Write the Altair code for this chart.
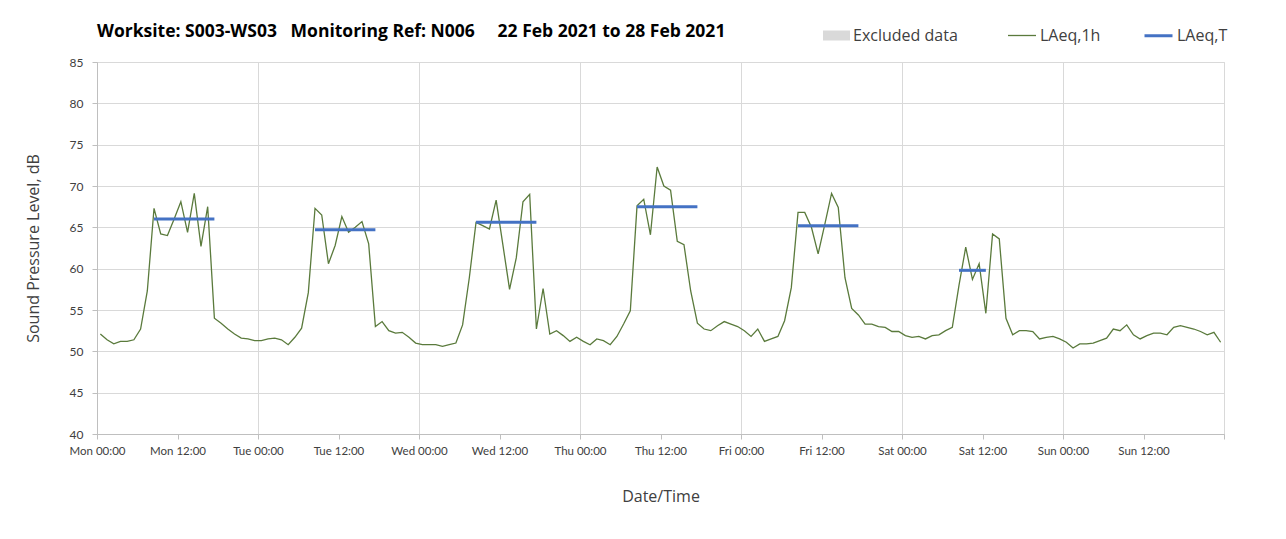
import altair as alt
import pandas as pd

# ---- data ----
DAY_NAMES = ["Mon", "Tue", "Wed", "Thu", "Fri", "Sat", "Sun"]

laeq_1h_mon = [52.1, 51.4, 50.9, 51.2, 51.2, 51.4, 52.7, 57.3, 67.3, 64.2, 64.0, 66.0,
               68.1, 64.4, 69.1, 62.7, 67.5, 54.0, 53.4, 52.7, 52.1, 51.6, 51.5, 51.3]
laeq_1h_tue = [51.3, 51.5, 51.6, 51.4, 50.8, 51.7, 52.8, 57.1, 67.3, 66.5, 60.6, 62.8,
               66.3, 64.4, 65.0, 65.7, 63.0, 53.0, 53.6, 52.5, 52.2, 52.3, 51.7, 51.0]
laeq_1h_wed = [50.8, 50.8, 50.8, 50.6, 50.8, 51.0, 53.2, 58.9, 65.6, 65.2, 64.8, 68.3,
               62.9, 57.5, 61.3, 68.1, 69.0, 52.7, 57.6, 52.1, 52.5, 51.9, 51.2, 51.7]
laeq_1h_thu = [51.2, 50.8, 51.5, 51.3, 50.8, 51.8, 53.3, 54.9, 67.6, 68.4, 64.1, 72.3,
               70.0, 69.5, 63.3, 62.9, 57.3, 53.4, 52.7, 52.5, 53.1, 53.6, 53.3, 53.0]
laeq_1h_fri = [52.5, 51.8, 52.7, 51.2, 51.5, 51.8, 53.7, 57.7, 66.8, 66.8, 65.0, 61.8,
               65.4, 69.1, 67.4, 58.9, 55.2, 54.4, 53.3, 53.3, 53.0, 52.9, 52.4, 52.4]
laeq_1h_sat = [51.9, 51.7, 51.8, 51.5, 51.9, 52.0, 52.5, 52.9, 58.0, 62.6, 58.7, 60.6,
               54.6, 64.2, 63.6, 54.0, 52.0, 52.5, 52.5, 52.4, 51.5, 51.7, 51.8, 51.5]
laeq_1h_sun = [51.1, 50.4, 50.9, 50.9, 51.0, 51.3, 51.6, 52.7, 52.5, 53.2, 52.0, 51.5,
               51.9, 52.2, 52.2, 52.0, 52.9, 53.1, 52.9, 52.7, 52.4, 52.0, 52.3, 51.1]

# LAeq,T daytime periods (hour index of first and last hourly value)
period_start_hour = [8, 32, 56, 80, 104, 128]
period_end_hour = [17, 41, 65, 89, 113, 132]
laeq_t = [66.0, 64.7, 65.6, 67.5, 65.2, 59.8]

LINE_SERIES = ["LAeq,1h", "LAeq,T"]
LINE_COLORS = ["#5a7a3c", "#4472c4"]
LINE_WIDTHS = [1.3, 3]
EXCLUDED = ["Excluded data"]
EXCLUDED_COLOR = ["#d9d9d9"]

# ---- tables ----
values = (laeq_1h_mon + laeq_1h_tue + laeq_1h_wed + laeq_1h_thu +
          laeq_1h_fri + laeq_1h_sat + laeq_1h_sun)
hourly = pd.DataFrame({
    "t": [h + 0.5 for h in range(len(values))],
    "level": values,
    "series": "LAeq,1h",
})
periods = pd.DataFrame({
    "t0": [h + 0.5 for h in period_start_hour],
    "t1": [h + 0.5 for h in period_end_hour],
    "level": laeq_t,
    "series": "LAeq,T",
})
excluded = pd.DataFrame({"t0": [], "t1": [], "kind": []})

FONT = "Open Sans"
TICK_FONT = "Lato"
TXT = "#404040"

days_js = "[" + ",".join("'%s'" % d for d in DAY_NAMES) + "]"
x_label_expr = ("datum.value >= 168 ? '' : " + days_js +
                "[floor(datum.value / 24)] + (datum.value % 24 === 0 ? ' 00:00' : ' 12:00')")

x_scale = alt.Scale(domain=[0, 168], nice=False, zero=False)
y_scale = alt.Scale(domain=[40, 85], nice=False, zero=False)

x_axis = alt.Axis(
    title="Date/Time",
    values=list(range(0, 169, 12)),
    labelExpr=x_label_expr,
    labelFont=TICK_FONT, labelFontSize=11.5, labelColor=TXT, labelPadding=6,
    labelFlush=False,
    titleFont=FONT, titleFontSize=16, titleFontWeight="normal", titleColor=TXT,
    titlePadding=32,
    tickSize=5, tickColor="#bfbfbf", domainColor="#bfbfbf",
    gridColor="#d9d9d9",
    gridOpacity={"condition": {"test": "datum.value % 24 === 0", "value": 1}, "value": 0},
)
y_axis = alt.Axis(
    title="Sound Pressure Level, dB",
    values=list(range(40, 86, 5)),
    labelFont=TICK_FONT, labelFontSize=12, labelColor=TXT, labelPadding=9,
    titleFont=FONT, titleFontSize=16, titleFontWeight="normal", titleColor=TXT,
    titlePadding=28,
    tickSize=5, tickColor="#bfbfbf", domainColor="#bfbfbf",
    gridColor="#d9d9d9",
)


def line_legend():
    return alt.Legend(
        title=None, orient="none", legendX=910, legendY=-42,
        direction="horizontal",
        labelFont=FONT, labelFontSize=16, labelColor=TXT,
        labelOffset=3, columnPadding=37,
        symbolType="stroke", symbolSize=784,
    )


color = alt.Color("series:N", scale=alt.Scale(domain=LINE_SERIES, range=LINE_COLORS),
                  legend=line_legend())
width = alt.StrokeWidth("series:N", scale=alt.Scale(domain=LINE_SERIES, range=LINE_WIDTHS),
                        legend=line_legend())

line = alt.Chart(hourly).mark_line().encode(
    x=alt.X("t:Q", scale=x_scale, axis=x_axis),
    y=alt.Y("level:Q", scale=y_scale, axis=y_axis),
    color=color,
    strokeWidth=width,
)

rules = alt.Chart(periods).mark_rule().encode(
    x=alt.X("t0:Q", scale=x_scale),
    x2="t1:Q",
    y=alt.Y("level:Q", scale=y_scale),
    color=color,
    strokeWidth=width,
)

excl = alt.Chart(excluded).mark_rect().encode(
    x=alt.X("t0:Q", scale=x_scale),
    x2="t1:Q",
    fill=alt.Fill("kind:N", scale=alt.Scale(domain=EXCLUDED, range=EXCLUDED_COLOR),
                  legend=alt.Legend(
                      title=None, orient="none", legendX=726, legendY=-40,
                      labelFont=FONT, labelFontSize=16, labelColor=TXT,
                      labelOffset=3,
                      symbolType="M-1,-0.37H1V0.37H-1Z", symbolSize=729,
                      symbolStrokeWidth=0, symbolOpacity=1,
                  )),
)

title_text = ("Worksite: S003-WS03\u00a0\u00a0\u00a0Monitoring Ref: N006"
              "\u00a0\u00a0\u00a0\u00a0\u00a022 Feb 2021 to 28 Feb 2021")

chart = alt.layer(excl, line, rules).properties(
    width=1127,
    height=372,
    title=alt.TitleParams(
        text=title_text, anchor="start", frame="group",
        font=FONT, fontSize=17.5, fontWeight="bold", color="#000000",
        offset=0, dy=20,
    ),
    autosize=alt.AutoSizeParams(type="none"),
    padding={"left": 89, "top": 54, "right": 54, "bottom": 90},
).configure_view(stroke="transparent").configure(background="white")

chart.save("out.html", embed_options={"renderer": "svg", "actions": False})
